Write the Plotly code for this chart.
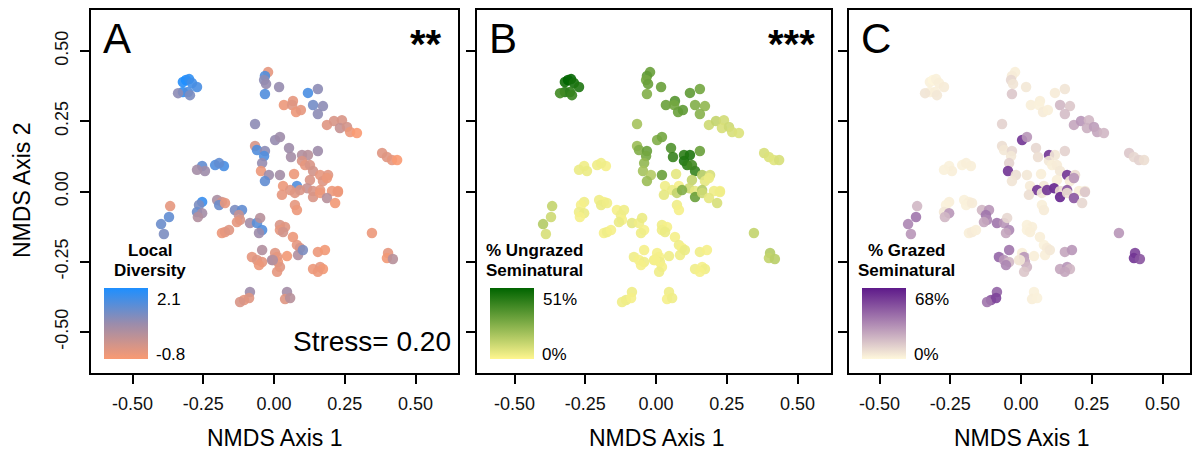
import plotly.graph_objects as go

# ---------------- data ----------------
nmds1 = [-0.322,-0.311,-0.300,-0.290,-0.272,-0.322,-0.304,-0.297,-0.339,
         -0.021,-0.032,-0.035,-0.028,-0.032,
         0.018,
         -0.067,
         0.120,0.155,
         0.035,0.067,0.064,0.078,0.095,
         0.138,0.173,0.155,
         0.187,0.212,0.240,0.233,0.258,0.269,0.293,
         0.004,0.021,
         0.053,0.060,0.099,0.120,0.155,
         0.099,0.110,
         0.382,0.399,0.417,0.435,
         0.021,0.071,0.127,0.138,0.163,0.191,0.127,0.173,0.187,
         0.081,0.032,0.057,0.117,0.138,0.163,0.205,0.226,
         -0.067,-0.060,-0.032,-0.035,-0.042,-0.046,-0.018,-0.032,
         -0.254,-0.244,-0.208,-0.177,-0.272,-0.194,
         -0.367,-0.371,-0.399,-0.389,
         -0.254,-0.265,-0.272,-0.254,-0.269,
         -0.201,-0.184,-0.194,-0.173,
         -0.138,-0.113,-0.124,-0.120,-0.131,
         -0.085,-0.060,-0.049,-0.042,-0.053,
         -0.184,-0.173,-0.159,
         -0.042,-0.078,-0.060,-0.042,-0.053,
         -0.106,-0.085,-0.088,-0.120,
         -0.007,0.004,
         0.028,0.074,0.092,0.138,0.163,0.187,0.216,0.226,
         0.074,0.081,
         0.021,0.039,0.021,0.032,
         0.067,0.081,0.092,0.085,0.102,
         0.155,0.180,
         0.346,
         0.403,0.399,0.420,
         0.011,0.014,0.021,0.011,-0.004,0.046,
         0.138,0.163,0.173,0.155,
         0.046,0.039,0.057]
nmds2 = [0.390,0.397,0.400,0.386,0.372,0.354,0.354,0.343,0.350,
         0.425,0.411,0.397,0.383,0.347,
         0.372,
         0.240,
         0.351,0.365,
         0.308,0.322,0.308,0.283,0.290,
         0.308,0.304,0.276,
         0.237,0.251,0.254,0.226,0.230,0.212,0.208,
         0.183,0.194,
         0.155,0.123,0.130,0.130,0.144,
         0.109,0.094,
         0.137,0.123,0.112,0.112,
         0.059,0.062,0.094,0.073,0.059,0.059,0.041,0.037,0.048,
         0.020,0.020,0.005,0.012,0.002,0.005,0.002,0.002,
         0.162,0.148,0.144,0.126,0.101,0.073,0.059,0.037,
         0.091,0.073,0.094,0.091,0.077,0.101,
         -0.052,-0.091,-0.116,-0.151,
         -0.037,-0.048,-0.073,-0.077,-0.091,
         -0.030,-0.037,-0.048,-0.041,
         -0.066,-0.066,-0.084,-0.101,-0.109,
         -0.112,-0.112,-0.094,-0.137,-0.148,
         -0.148,-0.144,-0.137,
         -0.208,-0.233,-0.244,-0.251,-0.262,
         -0.386,-0.358,-0.379,-0.393,
         -0.244,-0.219,
         -0.012,-0.005,0.005,-0.020,-0.005,-0.023,-0.041,-0.002,
         -0.048,-0.066,
         -0.119,-0.126,-0.137,-0.144,
         -0.162,-0.190,-0.201,-0.226,-0.208,
         -0.215,-0.208,
         -0.148,
         -0.219,-0.237,-0.240,
         -0.233,-0.251,-0.269,-0.286,-0.244,-0.230,
         -0.276,-0.269,-0.276,-0.286,
         -0.358,-0.383,-0.379]
local_diversity = [2.0,2.1,1.9,1.7,1.6,1.9,1.5,1.0,0.8,
                   -0.5,1.5,0.8,0.7,1.5,
                   0.7,
                   0.8,
                   1.6,0.8,
                   -0.6,-0.5,-0.4,-0.6,-0.5,
                   1.1,0.8,0.8,
                   -0.4,-0.3,-0.3,0.0,-0.2,-0.6,-0.8,
                   0.7,0.6,
                   0.6,0.5,0.3,0.2,0.6,
                   -0.3,-0.5,
                   -0.4,-0.4,-0.5,-0.8,
                   0.5,-0.6,-0.3,-0.2,-0.5,-0.4,-0.3,-0.4,-0.6,
                   1.5,-0.6,-0.4,0.0,-0.3,-0.5,-0.6,-0.7,
                   -0.3,1.5,0.8,1.5,0.7,-0.6,0.6,1.3,
                   1.3,0.6,1.5,1.6,0.5,1.3,
                   -0.5,1.3,1.2,1.0,
                   1.8,1.0,1.2,0.5,0.3,
                   0.4,-0.2,1.2,-0.5,
                   1.0,1.3,0.0,-0.3,-0.5,
                   0.5,1.4,0.2,1.5,0.6,
                   -0.6,-0.5,-0.4,
                   0.3,-0.5,-0.4,-0.5,-0.6,
                   -0.5,0.6,-0.4,-0.3,
                   0.4,-0.4,
                   -0.5,-0.4,-0.3,-0.3,-0.6,0.2,-0.7,-0.6,
                   -0.5,-0.6,
                   -0.3,-0.4,-0.5,-0.2,
                   -0.6,-0.5,-0.3,0.3,1.0,
                   -0.6,-0.7,
                   -0.6,
                   -0.5,-0.7,0.2,
                   -0.5,-0.6,-0.4,-0.5,0.3,-0.7,
                   -0.6,-0.5,-0.7,-0.6,
                   0.5,-0.4,0.2]
ungrazed_pct = [48,51,50,47,45,44,42,40,38,
                30,32,28,30,25,
                30,
                18,
                32,28,
                30,34,28,30,32,
                25,22,24,
                10,12,9,8,10,8,7,
                25,28,
                35,40,42,45,30,
                45,42,
                8,7,6,8,
                30,5,38,40,15,8,12,5,4,
                2,3,4,10,5,15,3,2,
                20,25,30,28,22,18,15,20,
                3,4,3,2,4,3,
                12,10,15,8,
                3,2,3,4,2,
                3,2,4,3,
                2,3,3,2,4,
                5,3,4,2,3,
                2,3,2,
                2,3,2,3,2,
                4,3,2,3,
                3,2,
                5,12,25,30,10,5,8,3,
                3,2,
                3,2,3,4,
                2,3,2,3,4,
                3,2,
                12,
                15,12,14,
                2,3,2,3,2,3,
                3,2,3,2,
                3,2,3]
grazed_pct = [2,1,2,3,4,2,3,5,6,
              3,4,10,6,15,
              5,
              12,
              4,6,
              3,3,2,4,3,
              20,15,18,
              25,30,20,22,28,25,20,
              60,30,
              10,8,60,5,12,
              5,3,
              15,10,12,8,
              5,3,4,5,60,8,3,4,30,
              5,4,60,65,8,50,3,5,
              8,5,10,5,12,60,8,6,
              2,3,2,3,2,3,
              20,40,35,30,
              3,2,5,30,20,
              2,3,2,4,
              20,30,40,35,25,
              40,30,10,35,25,
              3,4,3,
              40,45,30,20,35,
              50,45,55,40,
              5,3,
              8,5,60,65,8,50,10,15,
              3,4,
              2,3,2,3,
              3,2,4,3,5,
              25,30,
              30,
              55,60,50,
              30,25,20,15,5,3,
              25,30,20,25,
              2,3,2]

panel_letters = ["A", "B", "C"]
signif = ["**", "***", ""]
legend_titles = [["Local", "Diversity"], ["% Ungrazed", "Seminatural"], ["% Grazed", "Seminatural"]]
legend_hi = ["2.1", "51%", "68%"]
legend_lo = ["-0.8", "0%", "0%"]
x_ticks = [-0.50, -0.25, 0.00, 0.25, 0.50]
x_tick_text = ["-0.50", "-0.25", "0.00", "0.25", "0.50"]
y_ticks = [-0.50, -0.25, 0.00, 0.25, 0.50]
y_tick_text = ["-0.50", "-0.25", "0.00", "0.25", "0.50"]

# ---------------- styling / layout ----------------
W, H = 1204, 451
FONT = "Liberation Sans, Arial, sans-serif"
scales = [
    [[0, "#F99A72"], [0.5, "#9A8CAC"], [1, "#1E8FFF"]],
    [[0, "#FFF68F"], [1, "#006400"]],
    [[0, "#FFF8DC"], [1, "#5E1A8A"]],
]
ranges_c = [(-0.8, 2.1), (0, 51), (0, 68)]
values = [local_diversity, ungrazed_pct, grazed_pct]

frames = [(91, 458), (477, 831), (849, 1190)]
zero_px = [274, 656, 1021]
top_px, bot_px = 10, 373
ppu = 283.0


def fx(px):
    return px / W


def fy(py):
    return 1 - py / H


def note(text, px, py, size, xanchor="center", bold=False, angle=0):
    return dict(text=("<b>%s</b>" % text) if bold else text, x=fx(px), y=fy(py),
                xref="paper", yref="paper", xanchor=xanchor, yanchor="middle",
                textangle=angle, font=dict(family=FONT, size=size, color="black"),
                showarrow=False)


fig = go.Figure()
annotations = []
for i in range(3):
    L, R = frames[i]
    xr = [(L - zero_px[i]) / ppu, (R - zero_px[i]) / ppu]
    yr = [-0.646, 0.646]
    sfx = "" if i == 0 else str(i + 1)
    cmin, cmax = ranges_c[i]
    fig.add_trace(go.Scatter(
        x=nmds1, y=nmds2, mode="markers",
        xaxis="x" + sfx, yaxis="y" + sfx,
        marker=dict(size=10.5, color=values[i], colorscale=scales[i], cmin=cmin, cmax=cmax,
                    opacity=0.9, line=dict(width=0),
                    colorbar=dict(x=fx(L + 13), xanchor="left", y=fy(359), yanchor="bottom",
                                  len=71, lenmode="pixels", thickness=44, thicknessmode="pixels",
                                  xpad=0, ypad=0, outlinewidth=0, showticklabels=False, ticks="")),
        showlegend=False, hoverinfo="skip"))
    axis_common = dict(showgrid=False, zeroline=False, showline=True, mirror=True,
                       linecolor="black", linewidth=1.5, ticks="outside", ticklen=9,
                       tickwidth=1.5, tickcolor="black", ticklabelstandoff=5,
                       tickfont=dict(family=FONT, size=18, color="#111"))
    fig.update_layout(**{
        "xaxis" + sfx: dict(domain=[fx(L), fx(R)], range=xr, anchor="y" + sfx,
                            tickvals=x_ticks, ticktext=x_tick_text, **axis_common),
        "yaxis" + sfx: dict(domain=[fy(bot_px), fy(top_px)], range=yr, anchor="x" + sfx,
                            tickvals=y_ticks, ticktext=y_tick_text, tickangle=-90,
                            showticklabels=(i == 0), **axis_common),
    })
    annotations.append(note(panel_letters[i], L + 10, 39, 42, xanchor="left"))
    if signif[i]:
        annotations.append(note(signif[i], R - 14, 44, 40, xanchor="right", bold=True))
    cx = L + 59 if i == 0 else L + 57
    annotations.append(note(legend_titles[i][0], cx, 250, 17, bold=True))
    annotations.append(note(legend_titles[i][1], cx, 270, 17, bold=True))
    annotations.append(note(legend_hi[i], L + 64, 299, 17, xanchor="left"))
    annotations.append(note(legend_lo[i], L + 63, 354, 17, xanchor="left"))
    annotations.append(note("NMDS Axis 1", zero_px[i], 438, 23))

annotations.append(note("Stress= 0.20", 453, 341, 28, xanchor="right"))
annotations.append(note("NMDS Axis 2", 22, 191, 23, angle=-90))

fig.update_layout(width=W, height=H, margin=dict(l=0, r=0, t=0, b=0),
                  paper_bgcolor="white", plot_bgcolor="white", annotations=annotations)
fig.write_html("out.html")
